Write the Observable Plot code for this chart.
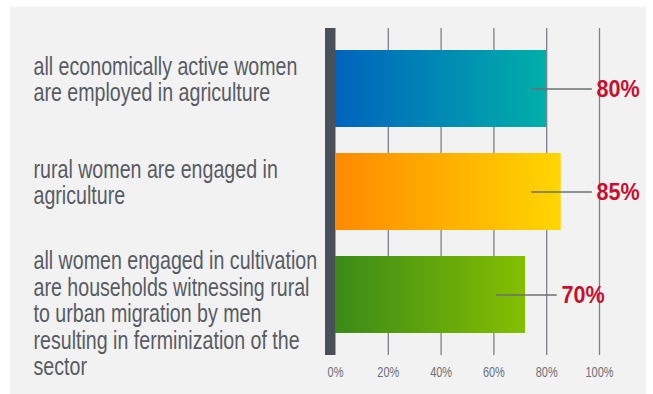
<!DOCTYPE html>
<html><head><meta charset="utf-8">
<script src="https://cdn.jsdelivr.net/npm/d3@7"></script>
<script src="https://cdn.jsdelivr.net/npm/@observablehq/plot@0.6"></script>
<style>
body{margin:0;background:#fff;}
#wrap{position:relative;width:653px;height:394px;background:#fff;overflow:hidden;}
#panel{position:absolute;left:10px;top:7px;width:636px;height:387px;background:#f2f2f2;}
#chart{position:absolute;left:0;top:0;}
</style></head><body>
<div id="wrap"><div id="panel"></div><div id="chart"></div></div>
<script>
const categories = [
  "all economically active women\nare employed in agriculture",
  "rural women are engaged in\nagriculture",
  "all women engaged in cultivation\nare households witnessing rural\nto urban migration by men\nresulting in ferminization of the\nsector"
];
const values = [80, 85.5, 72];
const valueLabels = ["80%", "85%", "70%"];
const gradientStops = [["#0063be", "#00afa9"], ["#ff8a00", "#ffd600"], ["#3b8a18", "#84bf00"]];
const xTicks = [0, 20, 40, 60, 80, 100];
const gridTicks = [20, 40, 60, 80, 100];

const data = categories.map((c, i) => ({category: c, value: values[i], label: valueLabels[i], fill: `url(#grad${i})`}));
const labelX = v => v >= 75 ? 98.9 : v + 13.6;
const nLines = d => d.category.split("\n").length;
const FONT = "'Liberation Sans', Arial, sans-serif";
const catStyle = {y: "category", text: "category", frameAnchor: "left", dx: -302, textAnchor: "start", lineAnchor: "top", lineHeight: 1.06, fill: "#575c63", fontSize: 25, fontFamily: FONT};

const plot = Plot.plot({
  width: 653, height: 394,
  marginLeft: 335, marginRight: 54, marginTop: 28, marginBottom: 39,
  style: {background: "transparent", overflow: "visible", fontFamily: FONT},
  x: {domain: [0, 100], axis: null},
  y: {domain: categories, paddingInner: 0.249, paddingOuter: 0.208, axis: null},
  color: {type: "identity"},
  marks: [
    Plot.ruleX(gridTicks, {stroke: "#7d8187", strokeWidth: 1.3}),
    Plot.ruleX([0], {stroke: "#4a5058", strokeWidth: 10.5, dx: -5.25}),
    Plot.barX(data, {x1: 0, x2: "value", y: "category", fill: "fill"}),
    Plot.ruleY(data, {y: "category", x1: d => labelX(d.value) - 24.6, x2: d => labelX(d.value) - 1.6, stroke: "#6b6f75", strokeWidth: 1.5}),
    Plot.text(data, {y: "category", x: d => labelX(d.value), text: "label", textAnchor: "start", fill: "#c8102e", fontWeight: "bold", fontSize: 24, fontFamily: FONT}),
    Plot.text(data.filter(d => nLines(d) <= 2), {...catStyle, dy: -33}),
    Plot.text(data.filter(d => nLines(d) > 2), {...catStyle, dy: -44.5}),
    Plot.axisX(xTicks, {tickSize: 0, tickPadding: 11, label: null, tickFormat: d => d + "%", fontSize: 15, color: "#6b7077", fontFamily: FONT})
  ]
});

const svgEl = plot.tagName.toLowerCase() === "svg" ? plot : plot.querySelector("svg");
const svg = d3.select(svgEl);
const defs = svg.insert("defs", ":first-child");
gradientStops.forEach(([a, b], i) => {
  const g = defs.append("linearGradient").attr("id", `grad${i}`).attr("x1", "0").attr("x2", "1").attr("y1", "0").attr("y2", "0");
  g.append("stop").attr("offset", "0").attr("stop-color", a);
  g.append("stop").attr("offset", "1").attr("stop-color", b);
});

function condense(selector, s) {
  svg.selectAll(selector).each(function() {
    const t = this.getAttribute("transform") || "";
    this.setAttribute("transform", t + ` scale(${s},1)`);
  });
}
condense('g[font-size="25"] text', 0.785);
condense('g[font-size="24"] text', 0.9);
condense('g[font-size="15"] text', 0.73);

document.getElementById("chart").appendChild(plot);
</script>
</body></html>
